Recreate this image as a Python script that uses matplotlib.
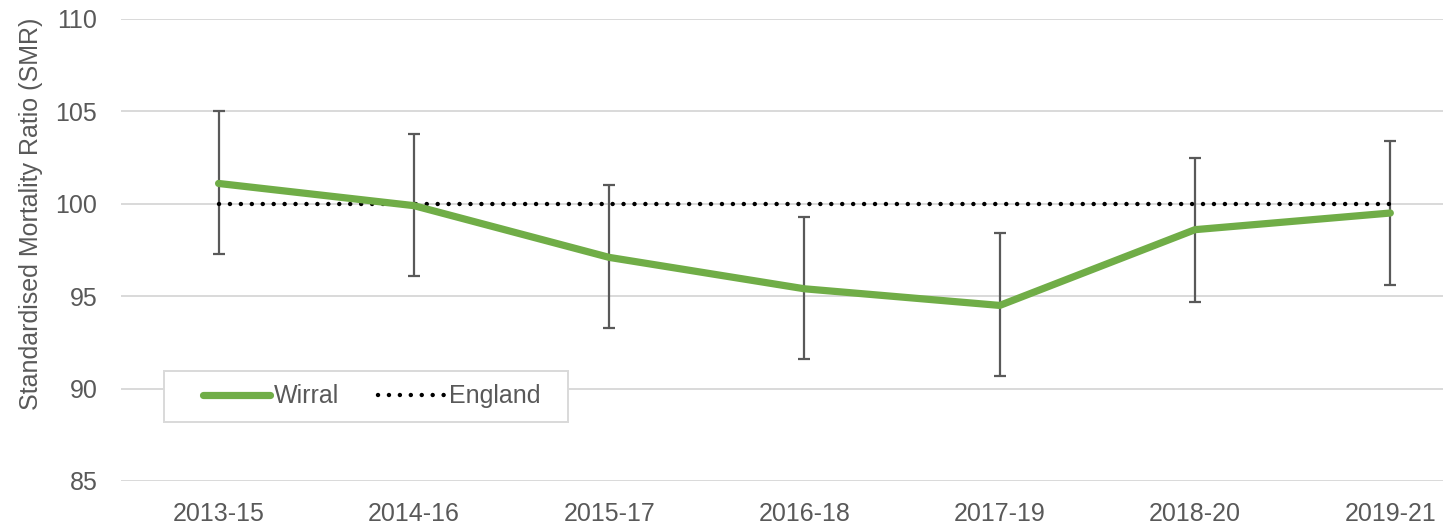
import numpy as np
import matplotlib.pyplot as plt
from matplotlib.patches import Rectangle

plt.rcParams['font.family'] = ['Liberation Sans', 'DejaVu Sans']

# Data
periods = ['2013-15', '2014-16', '2015-17', '2016-18', '2017-19', '2018-20', '2019-21']
wirral = [101.1, 99.9, 97.1, 95.4, 94.5, 98.6, 99.5]
wirral_upper = [105.0, 103.8, 101.0, 99.3, 98.4, 102.5, 103.4]
wirral_lower = [97.3, 96.1, 93.3, 91.6, 90.7, 94.7, 95.6]
england = [100, 100, 100, 100, 100, 100, 100]

grey = '#595959'
green = '#70AD47'

x = np.arange(len(periods))
yerr = [np.array(wirral) - np.array(wirral_lower),
        np.array(wirral_upper) - np.array(wirral)]

fig = plt.figure(figsize=(14.5, 5.32), dpi=100)
ax = fig.add_axes([0.0834, 0.0959, 0.9952 - 0.0834, 0.9643 - 0.0959])

ax.errorbar(x, wirral, yerr=yerr, fmt='none', ecolor=grey, elinewidth=1.6,
            capsize=4, capthick=1.6, zorder=2)
ln_eng, = ax.plot(x, england, color='black', lw=3.2, zorder=3, label='England')
ln_eng.set_linestyle((0, (0.01, 2.45)))
ln_eng.set_dash_capstyle('round')
ax.plot(x, wirral, color=green, lw=5.2, zorder=4, label='Wirral',
        solid_capstyle='round', solid_joinstyle='round')

ax.set_ylim(85, 110)
ax.set_yticks([85, 90, 95, 100, 105, 110])
ax.set_xlim(-0.5, 6.27)
ax.set_xticks(x)
ax.set_xticklabels(periods)

ax.grid(axis='y', color='#D9D9D9', lw=1.4)
ax.set_axisbelow(True)
for s in ax.spines.values():
    s.set_visible(False)
ax.tick_params(axis='both', length=0, labelsize=18, labelcolor=grey)
ax.tick_params(axis='y', pad=17)
ax.tick_params(axis='x', pad=15)

# y label sits a bit above the axes centre in the original
fig.text(31 / 1450, 1 - 214 / 532, 'Standardised Mortality Ratio (SMR)',
         rotation=90, ha='center', va='center', fontsize=18, color=grey)

# legend box drawn separately so it can be wider than the entries
ax.add_patch(Rectangle((0.0325, 0.1277), 0.3056, 0.1104, transform=ax.transAxes,
                       facecolor='white', edgecolor='#D9D9D9', lw=1.4, zorder=5))
handles, labels = ax.get_legend_handles_labels()
leg = ax.legend(handles[::-1], labels[::-1], ncol=2, loc='center left',
                bbox_to_anchor=(0.062, 0.183), fontsize=18, frameon=False,
                handlelength=2.7, handletextpad=0.15, columnspacing=1.55,
                borderpad=0, borderaxespad=0, labelcolor=grey)
leg.set_zorder(6)

fig.savefig('out.png', dpi=100)
